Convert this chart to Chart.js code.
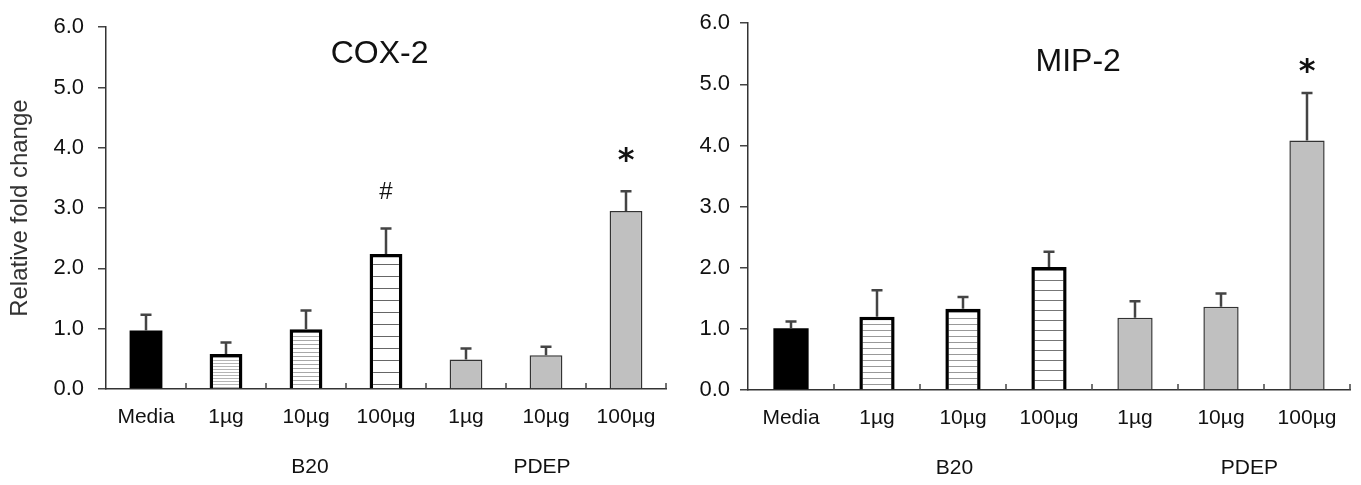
<!DOCTYPE html>
<html>
<head>
<meta charset="utf-8">
<script src="https://cdn.jsdelivr.net/npm/chart.js@4.4.1/dist/chart.umd.min.js"></script>
<style>
  body { margin: 0; background: #fff; width: 1361px; height: 485px; position: relative; overflow: hidden; }
  canvas { position: absolute; top: 0; }
  #cox2 { left: 0; }
  #mip2 { left: 680px; }
</style>
</head>
<body>
<canvas id="cox2" width="680" height="485"></canvas>
<canvas id="mip2" width="681" height="485"></canvas>
<script>
// categories and group labels
const categories = ["Media", "1µg", "10µg", "100µg", "1µg", "10µg", "100µg"];
const groupLabels = ["B20", "PDEP"];

// COX-2 (left panel)
const cox2Values = [0.97, 0.58, 0.99, 2.24, 0.49, 0.56, 2.95];
const cox2Errors = [0.26, 0.19, 0.31, 0.42, 0.18, 0.14, 0.33];
const cox2Marks  = ["", "", "", "#", "", "", "*"];

// MIP-2 (right panel)
const mip2Values = [1.01, 1.20, 1.33, 2.01, 1.18, 1.36, 4.08];
const mip2Errors = [0.11, 0.43, 0.19, 0.25, 0.27, 0.22, 0.78];
const mip2Marks  = ["", "", "", "", "", "", "*"];

// y axis range
const yMin = 0, yMax = 6, yStep = 1;

const FONT = "Liberation Sans";
const TEXT = "#111";

function hatch(ctx, step, color) {
  const c = document.createElement("canvas");
  c.width = 8; c.height = step;
  const g = c.getContext("2d");
  g.fillStyle = "#fff"; g.fillRect(0, 0, 8, step);
  g.fillStyle = color; g.fillRect(0, 0, 8, 1);
  return ctx.createPattern(c, "repeat");
}

// draws error bars, significance marks, inward x ticks, panel title and group labels
function makeExtras(cfg) {
  return {
    id: "extras",
    afterDatasetsDraw(chart) {
      const { ctx, chartArea, scales: { x, y } } = chart;
      const bars = chart.getDatasetMeta(0).data;
      const values = chart.data.datasets[0].data;
      ctx.save();

      // error bars (upper only)
      ctx.strokeStyle = "#444";
      ctx.lineWidth = 2.5;
      bars.forEach((bar, i) => {
        const top = y.getPixelForValue(values[i] + cfg.errors[i]);
        ctx.beginPath();
        ctx.moveTo(bar.x, bar.y);
        ctx.lineTo(bar.x, top);
        ctx.moveTo(bar.x - 5.5, top);
        ctx.lineTo(bar.x + 5.5, top);
        ctx.stroke();

        const m = cfg.marks[i];
        if (m) {
          const star = m === "*";
          ctx.fillStyle = TEXT;
          ctx.font = star ? "bold 32px 'DejaVu Sans'" : "24px " + FONT;
          ctx.textAlign = "center";
          ctx.textBaseline = "middle";
          ctx.fillText(m, bar.x, top - cfg.markGap - (star ? 0 : 6));
        }
      });

      // small ticks between categories, pointing up from the axis
      ctx.strokeStyle = "#444";
      ctx.lineWidth = 1.5;
      const n = categories.length;
      for (let i = 0; i < n; i++) {
        const bx = i < n - 1
          ? (x.getPixelForValue(i) + x.getPixelForValue(i + 1)) / 2
          : chartArea.right;
        ctx.beginPath();
        ctx.moveTo(bx, chartArea.bottom);
        ctx.lineTo(bx, chartArea.bottom - 6);
        ctx.stroke();
      }

      // panel title inside the plot
      ctx.fillStyle = TEXT;
      ctx.font = "32px " + FONT;
      ctx.textAlign = "center";
      ctx.textBaseline = "middle";
      ctx.fillText(cfg.title, x.getPixelForValue(cfg.titleAt[0]), y.getPixelForValue(cfg.titleAt[1]));

      // group labels under the category labels
      ctx.font = "21px " + FONT;
      groupLabels.forEach((g, k) => {
        ctx.fillText(g, x.getPixelForValue(cfg.groupAt[k]), chartArea.bottom + 78);
      });
      ctx.restore();
    }
  };
}

function makeChart(id, values, cfg) {
  const ctx = document.getElementById(id).getContext("2d");
  const fills = [
    "#000",
    hatch(ctx, cfg.hatch[0], cfg.hatchColor[0]),
    hatch(ctx, cfg.hatch[1], cfg.hatchColor[1]),
    hatch(ctx, cfg.hatch[2], cfg.hatchColor[2]),
    "#c0c0c0", "#c0c0c0", "#c0c0c0"
  ];
  return new Chart(ctx, {
    type: "bar",
    data: {
      labels: categories,
      datasets: [{
        data: values,
        backgroundColor: fills,
        borderColor: ["#000", "#000", "#000", "#000", "#333", "#333", "#333"],
        borderWidth: [0, 3.5, 3.5, 3.5, 1.5, 1.5, 1.5],
        barPercentage: 0.41,
        categoryPercentage: 1
      }]
    },
    options: {
      responsive: false,
      animation: false,
      layout: { padding: { top: cfg.top, right: cfg.right, left: 0, bottom: 0 } },
      plugins: { legend: { display: false }, tooltip: { enabled: false } },
      scales: {
        x: {
          grid: { display: false, drawTicks: false },
          border: { color: "#333", width: 1.5 },
          ticks: { font: { family: FONT, size: 21 }, color: TEXT, padding: 16, maxRotation: 0, autoSkip: false },
          afterFit: s => { s.height = cfg.xHeight; }
        },
        y: {
          min: yMin, max: yMax,
          ticks: { stepSize: yStep, callback: v => v.toFixed(1), font: { family: FONT, size: 22 }, color: TEXT, padding: cfg.tickPad },
          grid: { drawOnChartArea: false, tickLength: 8, color: "#444", lineWidth: 1.5 },
          border: { color: "#333", width: 1.5 },
          title: { display: !!cfg.yTitle, text: cfg.yTitle || "", font: { family: FONT, size: 24 }, color: "#333", padding: { top: 6, bottom: 0 } },
          afterFit: s => { s.width = cfg.yWidth; }
        }
      }
    },
    plugins: [makeExtras(cfg)]
  });
}

makeChart("cox2", cox2Values, {
  errors: cox2Errors, marks: cox2Marks, markGap: 30,
  title: "COX-2", titleAt: [2.92, 5.56], groupAt: [2.05, 4.95],
  hatch: [3, 4, 12], hatchColor: ["#b5b5b5", "#a8a8a8", "#666"],
  top: 20, right: 14, yWidth: 106, xHeight: 96, tickPad: 14,
  yTitle: "Relative fold change"
});

makeChart("mip2", mip2Values, {
  errors: mip2Errors, marks: mip2Marks, markGap: 20,
  title: "MIP-2", titleAt: [3.34, 5.36], groupAt: [1.9, 5.33],
  hatch: [6, 6, 10], hatchColor: ["#999", "#999", "#777"],
  top: 23, right: 11, yWidth: 68, xHeight: 95, tickPad: 10,
  yTitle: ""
});
</script>
</body>
</html>
